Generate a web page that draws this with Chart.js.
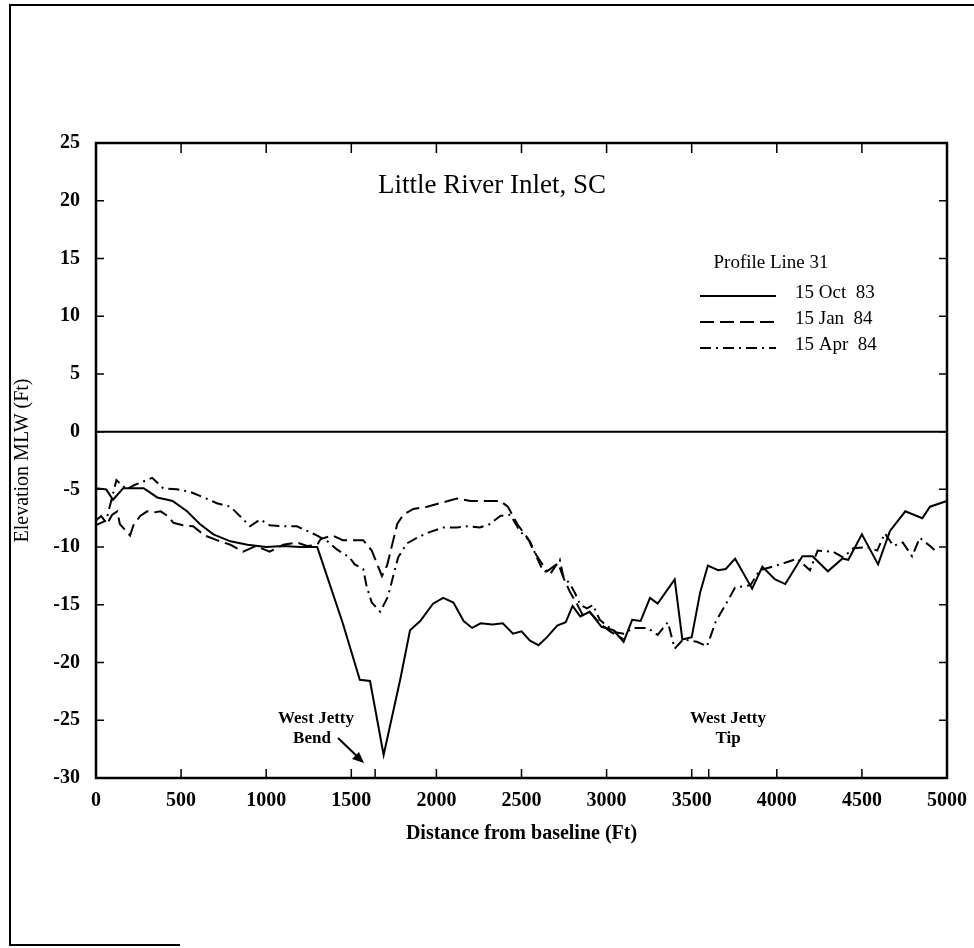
<!DOCTYPE html>
<html>
<head>
<meta charset="utf-8">
<script src="https://cdn.jsdelivr.net/npm/chart.js@4.4.1/dist/chart.umd.min.js"></script>
<style>
  html, body { margin: 0; padding: 0; background: #fff; }
</style>
</head>
<body>
<canvas id="myChart" width="974" height="948"></canvas>
<script>
// profile line 31, distance from baseline (ft) and elevation MLW (ft)
const octDist = [0, 60, 100, 160, 280, 360, 420, 450, 535, 610, 690, 790, 890, 1000, 1100, 1200, 1300,
  1450, 1550, 1610, 1690, 1790, 1845, 1905, 1980, 2040, 2100, 2160, 2210, 2260, 2330, 2390, 2450, 2500,
  2550, 2600, 2650, 2710, 2760, 2800, 2845, 2900, 2970, 3040, 3100, 3150, 3200, 3255, 3300, 3400, 3445,
  3500, 3550, 3595, 3655, 3700, 3755, 3855, 3915, 3990, 4050, 4150, 4210, 4300, 4385, 4420, 4500, 4595,
  4665, 4755, 4855, 4900, 5000];
const octElev = [-4.9, -5.0, -5.9, -4.9, -4.9, -5.7, -5.9, -6.0, -6.9, -8.0, -8.9, -9.5, -9.8, -10.0, -9.9, -10.0, -10.0,
  -16.6, -21.5, -21.6, -28.0, -21.3, -17.2, -16.4, -14.9, -14.4, -14.8, -16.4, -17.0, -16.6, -16.7, -16.6, -17.5, -17.3,
  -18.1, -18.5, -17.8, -16.8, -16.5, -15.1, -16.0, -15.6, -16.9, -17.2, -18.2, -16.3, -16.4, -14.4, -14.9, -12.8, -18.0,
  -17.8, -13.9, -11.6, -12.0, -11.9, -11.0, -13.6, -11.7, -12.8, -13.2, -10.8, -10.8, -12.1, -11.0, -11.1, -8.9, -11.5,
  -8.6, -6.9, -7.5, -6.5, -6.0];

const janDist = [0, 30, 65, 95, 125, 140, 200, 220, 260, 300, 340, 380, 420, 455, 510, 570, 640, 710, 790,
  865, 940, 1020, 1100, 1180, 1240, 1300, 1320, 1390, 1450, 1510, 1570, 1620, 1680, 1710, 1770, 1805, 1865,
  1945, 2020, 2120, 2200, 2275, 2375, 2420, 2475, 2540, 2570, 2610, 2650, 2715, 2745, 2785, 2825, 2860,
  2900, 2960, 3020, 3100];
const janElev = [-7.7, -7.3, -8.0, -7.2, -6.9, -8.0, -9.0, -8.1, -7.3, -6.9, -7.0, -6.9, -7.3, -7.9, -8.1, -8.2, -9.0, -9.4, -9.8,
  -10.4, -9.9, -10.4, -9.8, -9.6, -9.9, -9.8, -9.3, -9.0, -9.4, -9.4, -9.4, -10.3, -12.5, -11.6, -8.0, -7.2, -6.7,
  -6.5, -6.2, -5.8, -6.0, -6.0, -6.0, -6.5, -8.0, -9.3, -10.3, -11.2, -12.1, -11.4, -12.6, -13.9, -14.9, -15.9,
  -15.6, -16.6, -17.3, -18.0];

const aprDist = [0, 60, 120, 180, 230, 330, 395, 475, 550, 650, 710, 790, 845, 905, 965, 1020, 1100, 1180,
  1240, 1300, 1360, 1415, 1490, 1520, 1570, 1590, 1620, 1670, 1715, 1745, 1775, 1825, 1885, 1960, 2040,
  2120, 2180, 2255, 2315, 2375, 2435, 2490, 2550, 2590, 2625, 2670, 2725, 2745, 2785, 2815, 2845, 2885,
  2920, 2960, 3000, 3060, 3100, 3160, 3240, 3300, 3360, 3400, 3450, 3530, 3590, 3640, 3710, 3755, 3845,
  3900, 4020, 4120, 4195, 4240, 4330, 4390, 4450, 4530, 4590, 4635, 4685, 4740, 4795, 4840, 4900, 4930];
const aprElev = [-8.1, -7.7, -4.2, -5.0, -4.6, -4.0, -4.9, -5.0, -5.2, -5.8, -6.2, -6.5, -7.3, -8.2, -7.6, -8.1, -8.2, -8.2,
  -8.6, -9.0, -9.5, -10.2, -10.9, -11.5, -11.9, -13.4, -14.8, -15.6, -14.3, -12.6, -10.9, -9.7, -9.2, -8.7, -8.3,
  -8.3, -8.2, -8.3, -8.0, -7.3, -7.2, -8.6, -9.5, -10.9, -12.0, -12.3, -11.1, -12.5, -13.2, -14.0, -15.0, -15.3,
  -15.0, -16.3, -16.8, -17.4, -17.5, -17.0, -17.0, -17.6, -16.5, -18.8, -18.0, -18.2, -18.6, -16.5, -14.7, -13.5, -13.3,
  -12.0, -11.5, -11.0, -12.0, -10.3, -10.4, -10.9, -10.1, -10.0, -10.3, -8.8, -9.9, -9.6, -10.8, -9.2, -9.9, -10.3];

const seriesLabels = ['15 Oct  83', '15 Jan  84', '15 Apr  84'];
const seriesDash = [[], [14, 6], [11, 5, 2, 5]];
const xTickStep = 500;
const yTickStep = 5;
const jettyTicks = [1640, 3600];

const serif = '"Liberation Serif", "Times New Roman", serif';

function toPoints(xs, ys) {
  return xs.map((x, i) => ({ x: x, y: ys[i] }));
}

// frame, inward ticks, zero line and in-plot texts
const decorations = {
  id: 'decorations',
  afterDraw(chart) {
    const ctx = chart.ctx;
    const a = chart.chartArea;
    const xs = chart.scales.x;
    const ys = chart.scales.y;
    ctx.save();
    ctx.strokeStyle = '#000';
    ctx.fillStyle = '#000';

    // page frame of the scan
    ctx.lineWidth = 2;
    ctx.beginPath();
    ctx.moveTo(974, 5);
    ctx.lineTo(10, 5);
    ctx.lineTo(10, 945);
    ctx.lineTo(180, 945);
    ctx.stroke();

    // plot box
    ctx.lineWidth = 2.5;
    ctx.strokeRect(a.left, a.top, a.right - a.left, a.bottom - a.top);

    // zero line
    ctx.lineWidth = 2;
    const y0 = ys.getPixelForValue(0);
    ctx.beginPath();
    ctx.moveTo(a.left, y0);
    ctx.lineTo(a.right, y0);
    ctx.stroke();

    // inward ticks
    ctx.lineWidth = 1.5;
    ys.ticks.forEach(t => {
      const p = ys.getPixelForValue(t.value);
      ctx.beginPath();
      ctx.moveTo(a.left, p); ctx.lineTo(a.left + 8, p);
      ctx.moveTo(a.right, p); ctx.lineTo(a.right - 8, p);
      ctx.stroke();
    });
    xs.ticks.forEach(t => {
      const p = xs.getPixelForValue(t.value);
      ctx.beginPath();
      ctx.moveTo(p, a.top); ctx.lineTo(p, a.top + 10);
      ctx.moveTo(p, a.bottom); ctx.lineTo(p, a.bottom - 9);
      ctx.stroke();
    });
    jettyTicks.forEach(v => {
      const p = xs.getPixelForValue(v);
      ctx.beginPath();
      ctx.moveTo(p, a.bottom); ctx.lineTo(p, a.bottom - 9);
      ctx.stroke();
    });

    // chart title
    ctx.textAlign = 'center';
    ctx.textBaseline = 'middle';
    ctx.font = '27px ' + serif;
    ctx.fillText('Little River Inlet, SC', 492, 186);

    // legend
    ctx.font = '19px ' + serif;
    ctx.fillText('Profile Line 31', 771, 263);
    ctx.textAlign = 'left';
    const rows = [293, 319, 345];
    seriesLabels.forEach((lab, i) => {
      ctx.setLineDash(seriesDash[i]);
      ctx.lineWidth = 2;
      ctx.beginPath();
      ctx.moveTo(700, rows[i] + 3);
      ctx.lineTo(776, rows[i] + 3);
      ctx.stroke();
      ctx.setLineDash([]);
      ctx.fillText(lab, 795, rows[i]);
    });

    // jetty notes
    ctx.textAlign = 'center';
    ctx.font = 'bold 17px ' + serif;
    ctx.fillText('West Jetty', 316, 719);
    ctx.fillText('Bend', 312, 739);
    ctx.fillText('West Jetty', 728, 719);
    ctx.fillText('Tip', 728, 739);

    // arrow to the bend
    ctx.lineWidth = 2;
    ctx.beginPath();
    ctx.moveTo(338, 738);
    ctx.lineTo(362, 761);
    ctx.stroke();
    ctx.beginPath();
    ctx.moveTo(364, 763);
    ctx.lineTo(352, 759);
    ctx.lineTo(359, 752);
    ctx.closePath();
    ctx.fill();

    ctx.restore();
  }
};

const ctx = document.getElementById('myChart');

const chart = new Chart(ctx, {
  type: 'line',
  data: {
    datasets: [
      {
        label: seriesLabels[0],
        data: toPoints(octDist, octElev),
        borderColor: '#000',
        borderWidth: 2,
        borderDash: seriesDash[0],
      },
      {
        label: seriesLabels[1],
        data: toPoints(janDist, janElev),
        borderColor: '#000',
        borderWidth: 2,
        borderDash: seriesDash[1],
      },
      {
        label: seriesLabels[2],
        data: toPoints(aprDist, aprElev),
        borderColor: '#000',
        borderWidth: 2,
        borderDash: seriesDash[2],
      }
    ]
  },
  options: {
    responsive: false,
    animation: false,
    layout: {
      padding: { left: 10, top: 143, right: 27, bottom: 100 }
    },
    elements: {
      point: { radius: 0 },
      line: { tension: 0 }
    },
    plugins: {
      legend: { display: false },
      title: { display: false },
      tooltip: { enabled: false }
    },
    scales: {
      x: {
        type: 'linear',
        min: 0,
        max: 5000,
        afterFit: s => { s.height = 70; },
        ticks: {
          stepSize: xTickStep,
          color: '#000',
          padding: 3,
          maxRotation: 0,
          callback: v => String(v),
          font: { family: serif, size: 20, weight: 'bold' }
        },
        grid: { display: false },
        border: { display: false },
        title: {
          display: true,
          text: 'Distance from baseline (Ft)',
          color: '#000',
          padding: { top: 4, bottom: 2 },
          font: { family: serif, size: 20, weight: 'bold' }
        }
      },
      y: {
        min: -30,
        max: 25,
        afterFit: s => { s.width = 86; },
        ticks: {
          stepSize: yTickStep,
          color: '#000',
          padding: 8,
          font: { family: serif, size: 20, weight: 'bold' }
        },
        grid: { display: false },
        border: { display: false },
        title: {
          display: true,
          text: 'Elevation MLW (Ft)',
          color: '#000',
          padding: { top: 1, bottom: 2 },
          font: { family: serif, size: 20 }
        }
      }
    }
  },
  plugins: [decorations]
});
</script>
</body>
</html>
